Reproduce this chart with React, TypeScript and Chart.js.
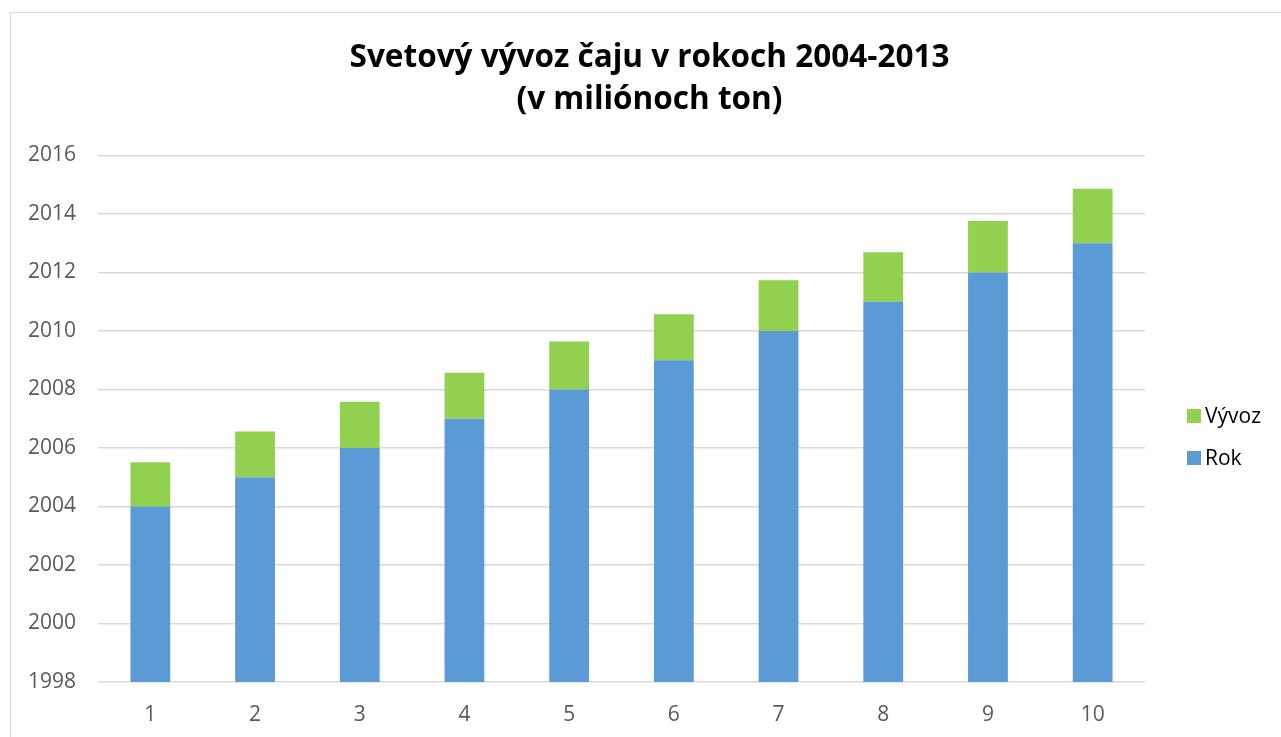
import React, { useEffect, useRef } from "react";
import { Chart, registerables } from "chart.js";

Chart.register(...registerables);

const categories = ["1", "2", "3", "4", "5", "6", "7", "8", "9", "10"];
const rokValues = [2004, 2005, 2006, 2007, 2008, 2009, 2010, 2011, 2012, 2013];
const vyvozValues = [1.51, 1.56, 1.58, 1.57, 1.64, 1.57, 1.73, 1.69, 1.76, 1.86];
const titleLines = ["Svetový vývoz čaju v rokoch 2004-2013", "(v miliónoch ton)"];
const yMin = 1998;
const yMax = 2016;
const yStep = 2;

const FONT = "'Open Sans', 'Noto Sans', sans-serif";

const framePlugin = {
  id: "frame",
  beforeDraw(chart: any) {
    const ctx = chart.ctx;
    ctx.save();
    ctx.fillStyle = "#ffffff";
    ctx.fillRect(0, 0, chart.width, chart.height);
    ctx.strokeStyle = "#d9d9d9";
    ctx.lineWidth = 1;
    ctx.strokeRect(10.5, 12.5, chart.width + 20, chart.height + 20);
    ctx.restore();
  },
};

// Legend drawn from the chart's datasets (reversed order, like the original)
const sideLegendPlugin = {
  id: "sideLegend",
  afterDraw(chart: any) {
    const ctx = chart.ctx;
    const ds = chart.data.datasets.slice().reverse();
    const x = chart.chartArea.right + 42;
    const y0 = 416;
    const gap = 42;
    ctx.save();
    ctx.font = `21px ${FONT}`;
    ctx.textBaseline = "middle";
    ctx.textAlign = "left";
    ds.forEach((d: any, i: number) => {
      const y = y0 + i * gap;
      ctx.fillStyle = d.backgroundColor;
      ctx.fillRect(x, y - 7, 14, 14);
      ctx.fillStyle = "#000000";
      ctx.fillText(d.label, x + 18, y + 1);
    });
    ctx.restore();
  },
};

export default function App() {
  const ref = useRef<HTMLCanvasElement | null>(null);

  useEffect(() => {
    if (!ref.current) return;
    const chart = new Chart(ref.current, {
      type: "bar",
      data: {
        labels: categories,
        datasets: [
          {
            label: "Rok",
            data: rokValues,
            backgroundColor: "#5B9BD5",
            barPercentage: 0.38,
            categoryPercentage: 1,
          },
          {
            label: "Vývoz",
            data: vyvozValues,
            backgroundColor: "#92D050",
            barPercentage: 0.38,
            categoryPercentage: 1,
          },
        ],
      },
      options: {
        animation: false,
        responsive: false,
        maintainAspectRatio: false,
        layout: { padding: { left: 18, right: 0, top: 0, bottom: 0 } },
        plugins: {
          tooltip: { enabled: false },
          title: {
            display: true,
            text: titleLines,
            color: "#000000",
            font: { family: FONT, size: 31.5, weight: "bold", lineHeight: 1.34 },
            padding: { top: 37, bottom: 34 },
          },
          legend: { display: false },
        },
        scales: {
          x: {
            stacked: true,
            grid: { display: false, drawTicks: false },
            border: { display: false },
            ticks: {
              color: "#595959",
              font: { family: FONT, size: 21 },
              padding: 20,
              maxRotation: 0,
            },
            afterFit: (scale: any) => {
              scale.height = 55;
            },
          },
          y: {
            stacked: true,
            min: yMin,
            max: yMax,
            grid: { color: "#d9d9d9", lineWidth: 1.5, drawTicks: false },
            border: { display: false },
            ticks: {
              stepSize: yStep,
              color: "#595959",
              font: { family: FONT, size: 21 },
              padding: 22,
              callback: (v: any) => String(v),
            },
            afterFit: (scale: any) => {
              scale.width = 80;
            },
          },
          legendSpace: {
            type: "linear",
            position: "right",
            display: true,
            grid: { display: false, drawTicks: false },
            border: { display: false },
            ticks: { display: false },
            afterFit: (scale: any) => {
              scale.width = 136;
            },
          },
        },
      },
      plugins: [framePlugin, sideLegendPlugin],
    });
    return () => chart.destroy();
  }, []);

  return (
    <div style={{ position: "fixed", left: 0, top: 0, width: 1281, height: 737, background: "#fff" }}>
      <canvas ref={ref} width={1281} height={737} style={{ display: "block" }} />
    </div>
  );
}
